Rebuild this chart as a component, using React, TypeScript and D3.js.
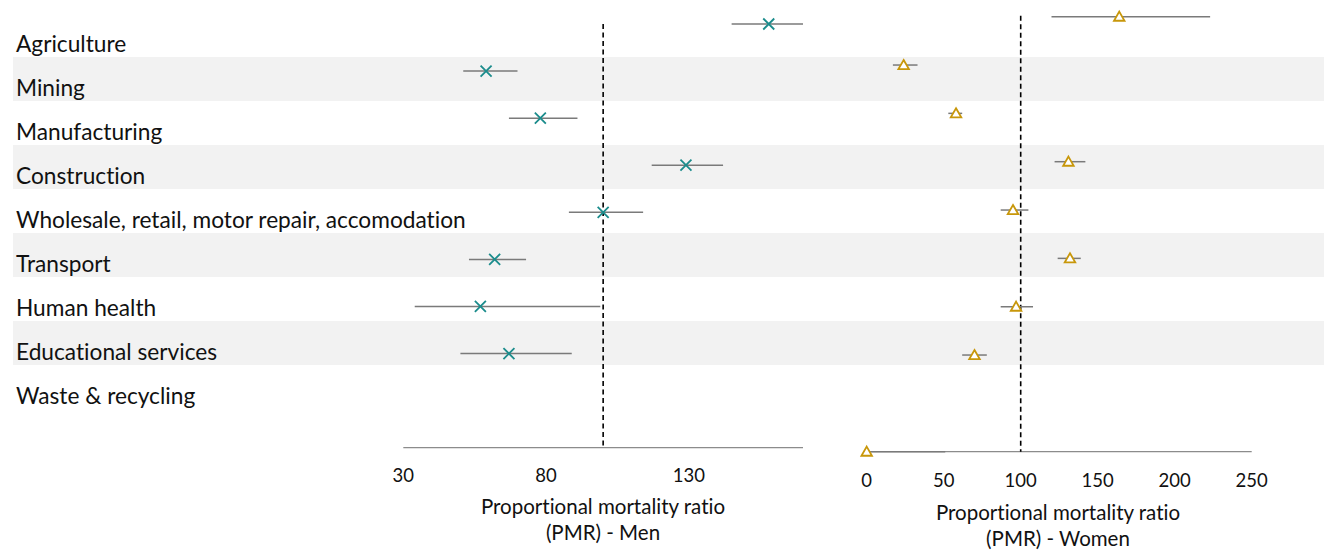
import React from "react";
import * as d3 from "d3";

// categories, top to bottom
const industries = [
  "Agriculture",
  "Mining",
  "Manufacturing",
  "Construction",
  "Wholesale, retail, motor repair, accomodation",
  "Transport",
  "Human health",
  "Educational services",
  "Waste & recycling",
];

// men PMR + 95% CI (no value for waste & recycling)
const menPmr = [158, 59, 78, 129, 100, 62, 57, 67, null];
const menLow = [145, 51, 67, 117, 88, 53, 34, 50, null];
const menHigh = [170, 70, 91, 142, 114, 73, 99, 89, null];

// women PMR + 95% CI
const womenPmr = [164, 24, 58, 131, 95, 132, 97, 70, 0];
const womenLow = [120, 17, 53, 122, 87, 124, 87, 62, 0];
const womenHigh = [223, 33, 62, 142, 105, 139, 108, 78, 51];
// y slot of each woman's marker (waste sits on the axis)
const womenSlot = [0, 1, 2, 3, 4, 5, 6, 7, 9];

const menTicks = [30, 80, 130];
const womenTicks = [0, 50, 100, 150, 200, 250];

const W = 1324;
const H = 557;
const FONT = "Lato, 'Open Sans', sans-serif";

const rowBand = d3.scaleBand().domain(industries).range([13, 13 + 44 * industries.length]);

const xMen = d3.scaleLinear().domain([30, 170]).range([403.3, 803]);
const yMen = d3.scaleLinear().domain([0, 9]).range([24, 447.7]);

const xWomen = d3.scaleLinear().domain([0, 250]).range([866.7, 1251.7]);
const yWomen = d3.scaleLinear().domain([0, 9]).range([16.7, 451.7]);

const teal = "#1b8c8c";
const gold = "#c8970a";
const barGrey = "#7a7a7a";

const xMark = (cx: number, cy: number, key: string) => {
  const s = 5.5;
  return (
    <path
      key={key}
      d={`M${cx - s},${cy - s}L${cx + s},${cy + s}M${cx - s},${cy + s}L${cx + s},${cy - s}`}
      stroke={teal}
      strokeWidth={1.8}
      fill="none"
    />
  );
};

const triMark = (cx: number, cy: number, key: string) => {
  const sym = d3.symbol().type(d3.symbolTriangle).size(48)();
  return (
    <path
      key={key}
      d={sym || ""}
      transform={`translate(${cx},${cy + 1})`}
      fill="#fff"
      stroke={gold}
      strokeWidth={1.8}
    />
  );
};

export default function App() {
  return (
    <svg
      width={W}
      height={H}
      style={{ position: "absolute", left: 0, top: 0, background: "#fff", fontVariantLigatures: "none" }}
      fontFamily={FONT}
    >
      {/* striped rows */}
      {industries.map((d, i) =>
        i % 2 === 1 ? (
          <rect key={d} x={13} y={rowBand(d)} width={W - 13} height={rowBand.bandwidth()} fill="#f2f2f2" />
        ) : null
      )}
      {industries.map((d) => (
        <text key={d} x={16} y={(rowBand(d) || 0) + 38.5} fontSize={22.7} fill="#111">
          {d}
        </text>
      ))}

      {/* men panel */}
      <line x1={xMen(30)} x2={xMen(170)} y1={yMen(9)} y2={yMen(9)} stroke="#8c8c8c" strokeWidth={1.3} />
      {menTicks.map((t) => (
        <text key={t} x={xMen(t)} y={481.5} textAnchor="middle" fontSize={18.5} fill="#111">
          {t}
        </text>
      ))}
      <line
        x1={xMen(100)}
        x2={xMen(100)}
        y1={yMen(0)}
        y2={yMen(9)}
        stroke="#000"
        strokeWidth={1.6}
        strokeDasharray="5,3.5"
      />
      {menPmr.map((v, i) =>
        v == null ? null : (
          <g key={i}>
            <line
              x1={xMen(menLow[i] as number)}
              x2={xMen(menHigh[i] as number)}
              y1={yMen(i)}
              y2={yMen(i)}
              stroke={barGrey}
              strokeWidth={1.5}
            />
            {xMark(xMen(v), yMen(i), "m" + i)}
          </g>
        )
      )}
      <text x={603} y={513.5} textAnchor="middle" fontSize={20.5} fill="#111">
        Proportional mortality ratio
      </text>
      <text x={603} y={540} textAnchor="middle" fontSize={20.5} fill="#111">
        (PMR) - Men
      </text>

      {/* women panel */}
      <line x1={xWomen(0)} x2={xWomen(250)} y1={yWomen(9)} y2={yWomen(9)} stroke="#8c8c8c" strokeWidth={1.3} />
      {womenTicks.map((t) => (
        <text key={t} x={xWomen(t)} y={486.5} textAnchor="middle" fontSize={18.5} fill="#111">
          {t}
        </text>
      ))}
      <line
        x1={xWomen(100)}
        x2={xWomen(100)}
        y1={yWomen(0) - 1}
        y2={yWomen(9)}
        stroke="#000"
        strokeWidth={1.6}
        strokeDasharray="5,3.5"
      />
      {womenPmr.map((v, i) => (
        <g key={i}>
          <line
            x1={xWomen(womenLow[i])}
            x2={xWomen(womenHigh[i])}
            y1={yWomen(womenSlot[i])}
            y2={yWomen(womenSlot[i])}
            stroke={barGrey}
            strokeWidth={1.5}
          />
          {triMark(xWomen(v), yWomen(womenSlot[i]), "w" + i)}
        </g>
      ))}
      <text x={1058} y={519.5} textAnchor="middle" fontSize={20.5} fill="#111">
        Proportional mortality ratio
      </text>
      <text x={1058} y={546} textAnchor="middle" fontSize={20.5} fill="#111">
        (PMR) - Women
      </text>
    </svg>
  );
}
